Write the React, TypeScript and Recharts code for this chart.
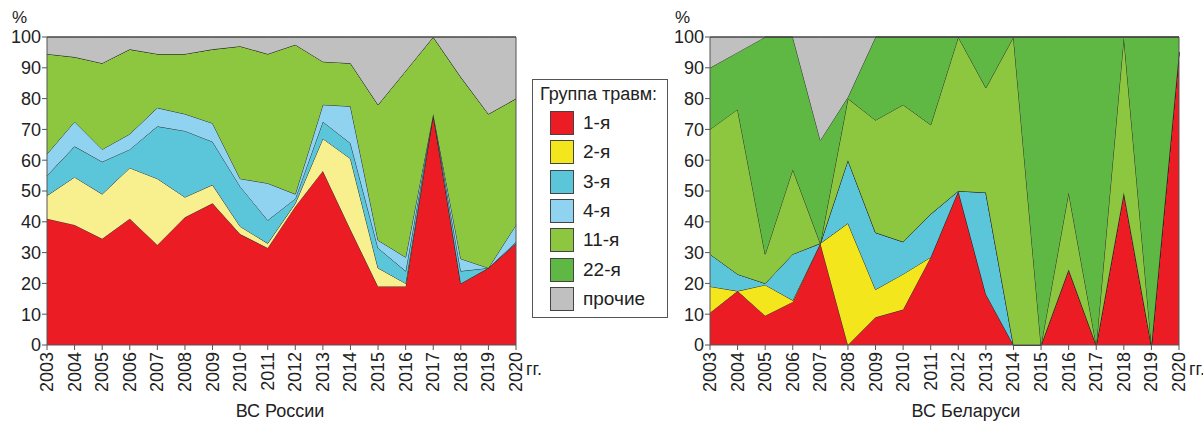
import { AreaChart, Area, XAxis, YAxis, ReferenceLine } from 'recharts';

const years = [
  '2003', '2004', '2005', '2006', '2007', '2008', '2009', '2010', '2011',
  '2012', '2013', '2014', '2015', '2016', '2017', '2018', '2019', '2020',
];
const yTicks = [0, 10, 20, 30, 40, 50, 60, 70, 80, 90, 100];

// ВС России, % by injury group
const ruG1 = [41, 39, 34.5, 41, 32.5, 41.5, 46, 36, 31.5, 45, 56.5, 37.5, 19, 19, 75, 20, 25, 33];
const ruG2 = [7.5, 15.5, 14.5, 16.5, 21.5, 6.5, 6, 2.5, 1.5, 1, 10.5, 23, 6, 1, 0, 0, 0, 0];
const ruG3 = [6.5, 10, 10.5, 6, 17, 21.5, 14, 13, 7.5, 1.5, 5.5, 5, 6.5, 4, 0, 4, 0, 0.5];
const ruG4 = [7, 8, 4, 5, 6, 5.5, 6, 2.5, 12, 1.5, 5.5, 12, 2.5, 4.5, 0, 4, 0, 5.5];
const ruG11 = [32.5, 21, 28, 27.5, 17.5, 19.5, 24, 43, 42, 48.5, 14, 14, 44, 60.5, 25, 59, 50, 41];
const ruG22 = [0, 0, 0, 0, 0, 0, 0, 0, 0, 0, 0, 0, 0, 0, 0, 0, 0, 0];
const ruOther = [5.5, 6.5, 8.5, 4, 5.5, 5.5, 4, 3, 5.5, 2.5, 8, 8.5, 22, 11, 0, 13, 25, 20];

// ВС Беларуси
const byG1 = [10.5, 17.5, 9.5, 14, 33, 0, 9, 11.5, 28.5, 50, 16.5, 0, 0, 24.5, 0, 49.5, 0, 95];
const byG2 = [8.5, 0, 10, 0.5, 0, 39.5, 9, 11.5, 0, 0, 0, 0, 0, 0, 0, 0, 0, 0];
const byG3 = [10.5, 5.5, 0.5, 15, 0, 20.5, 18.5, 10.5, 14, 0, 33, 0, 0, 0, 0, 0, 0, 0];
const byG4 = [0, 0, 0, 0, 0, 0, 0, 0, 0, 0, 0, 0, 0, 0, 0, 0, 0, 0];
const byG11 = [40.5, 53.5, 9.5, 27.5, 0, 20, 36.5, 44.5, 29, 50, 34, 100, 0, 25, 0, 50.5, 0, 0];
const byG22 = [20, 18.5, 70.5, 43, 33.5, 0.5, 27, 22, 28.5, 0, 16.5, 0, 100, 50.5, 100, 0, 100, 5];
const byOther = [10, 5, 0, 0, 33.5, 19.5, 0, 0, 0, 0, 0, 0, 0, 0, 0, 0, 0, 0];

const seriesNames = ['1-я', '2-я', '3-я', '4-я', '11-я', '22-я', 'прочие'];
const seriesKeys = ['g1', 'g2', 'g3', 'g4', 'g11', 'g22', 'other'];
const legendColors = ['#ec1c24', '#f4e61c', '#5bc5d9', '#8fd3f1', '#8dc63f', '#5fb843', '#c0c0c0'];
const ruColors = ['#ec1c24', '#f8f08e', '#5bc5d9', '#8fd3f1', '#8dc63f', '#5fb843', '#c0c0c0'];

const FONT = '"Liberation Sans", Arial, sans-serif';

function buildRows(cols: number[][]) {
  return years.map((year, i) => {
    const row: Record<string, any> = { year };
    seriesKeys.forEach((k, j) => {
      row[k] = cols[j][i];
    });
    return row;
  });
}

const ruData = buildRows([ruG1, ruG2, ruG3, ruG4, ruG11, ruG22, ruOther]);
const byData = buildRows([byG1, byG2, byG3, byG4, byG11, byG22, byOther]);

function YearTick({ x, y, payload }: any) {
  return (
    <text
      x={x}
      y={y}
      transform={`rotate(-90, ${x}, ${y})`}
      textAnchor="end"
      dominantBaseline="central"
      fontSize={18}
      fontFamily={FONT}
      fill="#222"
    >
      {payload.value}
    </text>
  );
}

function StackChart({ data, colors, left, title, titleX }: any) {
  return (
    <>
      <div style={{ position: 'absolute', left, top: 0 }}>
        <AreaChart
          width={530}
          height={423}
          data={data}
          margin={{ top: 37, right: 14, bottom: 0, left: 0 }}
        >
          <XAxis
            dataKey="year"
            height={78}
            interval={0}
            tickSize={5}
            tick={<YearTick />}
            axisLine={{ stroke: '#555' }}
            tickLine={{ stroke: '#555' }}
          />
          <YAxis
            width={47}
            domain={[0, 100]}
            ticks={yTicks}
            interval={0}
            tickSize={5}
            tickMargin={1}
            axisLine={{ stroke: '#555' }}
            tickLine={{ stroke: '#555' }}
            tick={{ fontSize: 18, fontFamily: FONT, fill: '#222' }}
          />
          {seriesKeys.map((k, j) => (
            <Area
              key={k}
              type="linear"
              dataKey={k}
              name={seriesNames[j]}
              stackId="s"
              stroke="#2b2b2b"
              strokeWidth={1}
              fill={colors[j]}
              fillOpacity={1}
              isAnimationActive={false}
              dot={false}
              activeDot={false}
            />
          ))}
          <ReferenceLine y={100} stroke="#555" />
          <ReferenceLine x="2020" stroke="#555" />
        </AreaChart>
      </div>
      <div style={{ position: 'absolute', left: left + 12, top: 8, fontSize: 17, fontFamily: FONT, color: '#222' }}>%</div>
      <div style={{ position: 'absolute', left: left + 526, top: 359, fontSize: 18, fontFamily: FONT, color: '#222' }}>гг.</div>
      <div
        style={{
          position: 'absolute',
          left: titleX - 100,
          width: 200,
          top: 401,
          textAlign: 'center',
          fontSize: 18,
          fontFamily: FONT,
          color: '#222',
        }}
      >
        {title}
      </div>
    </>
  );
}

export default function App() {
  return (
    <div style={{ position: 'absolute', left: 0, top: 0, width: 1203, height: 423, background: '#fff' }}>
      <StackChart data={ruData} colors={ruColors} left={0} title="ВС России" titleX={280} />
      <StackChart data={byData} colors={legendColors} left={663} title="ВС Беларуси" titleX={966} />
      <div
        style={{
          position: 'absolute',
          left: 532,
          top: 79,
          width: 134,
          height: 237,
          border: '1px solid #555',
          fontFamily: FONT,
          color: '#222',
        }}
      >
        <div style={{ position: 'absolute', left: 7, top: 4, fontSize: 18, whiteSpace: 'nowrap' }}>Группа травм:</div>
        {seriesNames.map((n, j) => (
          <div
            key={n}
            style={{ position: 'absolute', left: 17, top: 31 + j * 29.3, display: 'flex', alignItems: 'center' }}
          >
            <span
              style={{
                width: 22,
                height: 22,
                background: legendColors[j],
                border: '1px solid #444',
                display: 'inline-block',
              }}
            />
            <span style={{ marginLeft: 9, fontSize: 19 }}>{n}</span>
          </div>
        ))}
      </div>
    </div>
  );
}
